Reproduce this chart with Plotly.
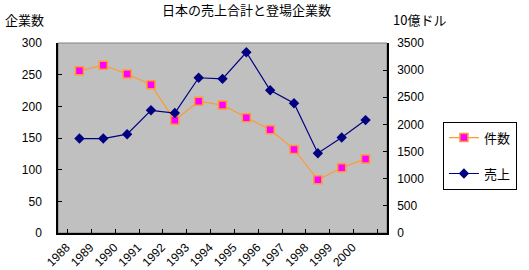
import plotly.graph_objects as go

years = [str(y) for y in range(1988, 2001)]
counts = [256, 265, 251, 234, 178, 208, 202, 182, 163, 132, 84, 103, 117]
sales = [1740, 1740, 1820, 2260, 2210, 2860, 2840, 3330, 2630, 2390, 1470, 1760, 2080]

title_text = "日本の売上合計と登場企業数"
left_title = "企業数"
right_title = "10億ドル"
name_counts = "件数"
name_sales = "売上"

JP = "Noto Sans CJK JP"
NUM = "Liberation Sans, Noto Sans CJK JP"

fig = go.Figure()
fig.add_trace(go.Scatter(
    x=years, y=counts, name=name_counts, mode="lines+markers",
    line=dict(color="#FF9933", width=1.2),
    marker=dict(symbol="square", size=8, color="#FF00FF",
                line=dict(color="#FF9933", width=1.5)),
    legendgroup="a", yaxis="y"))
fig.add_trace(go.Scatter(
    x=years, y=sales, name=name_sales, mode="lines+markers",
    line=dict(color="#000080", width=1.2),
    marker=dict(symbol="diamond", size=8, color="#000080"),
    legendgroup="b", yaxis="y2"))

fig.update_layout(
    width=529, height=270,
    margin=dict(l=58, r=121, t=43, b=37),
    paper_bgcolor="white", plot_bgcolor="#C0C0C0",
    font=dict(family=NUM, size=12, color="black"),
    showlegend=True,
    legend=dict(x=1.17, y=0.586, xanchor="left", yanchor="top",
                bgcolor="white", bordercolor="black", borderwidth=1,
                font=dict(family=JP, size=13), tracegroupgap=16,
                traceorder="grouped", itemwidth=30),
    xaxis=dict(type="category", showgrid=False, showline=True,
               linecolor="black", linewidth=1.5, ticks="inside",
               tickson="boundaries", ticklen=4, tickcolor="black",
               tickangle=-45, tickfont=dict(family=NUM, size=12),
               ticklabelshift=-13, ticklabelstandoff=1,
               automargin=False, zeroline=False),
    yaxis=dict(range=[0, 300], dtick=50, showgrid=False, showline=True,
               linecolor="black", linewidth=1.5, ticks="inside", ticklen=4,
               tickcolor="black", zeroline=False, automargin=False,
               ticklabelstandoff=12),
    yaxis2=dict(range=[0, 3500], dtick=500, overlaying="y", side="right",
                showgrid=False, showline=True, linecolor="black",
                linewidth=1.5, ticks="inside", ticklen=4, tickcolor="black",
                zeroline=False, automargin=False, ticklabelstandoff=6),
    shapes=[dict(type="rect", xref="paper", yref="paper", x0=0, x1=1,
                 y0=0, y1=1, line=dict(color="#808080", width=1),
                 layer="below")],
    annotations=[
        dict(text=title_text, xref="paper", yref="paper", x=0.574, y=1.178,
             xanchor="center", yanchor="middle", showarrow=False,
             font=dict(family=JP, size=13)),
        dict(text=left_title, xref="paper", yref="paper", x=-0.166, y=1.125,
             xanchor="left", yanchor="middle", showarrow=False,
             font=dict(family=JP, size=13)),
        dict(text=right_title, xref="paper", yref="paper", x=1.011, y=1.125,
             xanchor="left", yanchor="middle", showarrow=False,
             font=dict(family=JP, size=13)),
    ],
)

fig.write_html("out.html")
